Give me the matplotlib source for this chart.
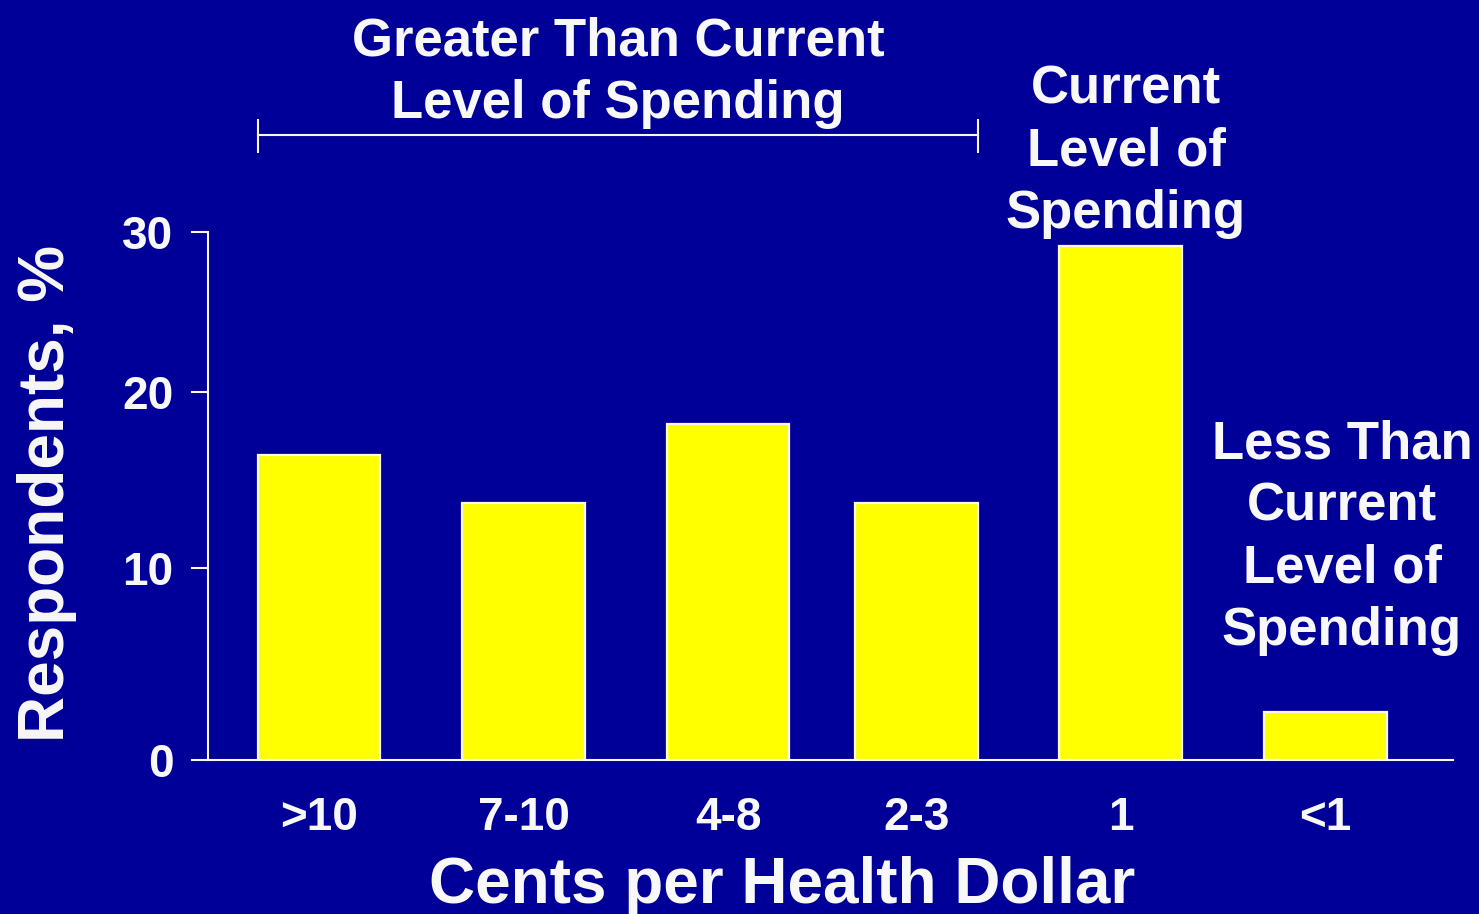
import numpy as np
import matplotlib
matplotlib.use("Agg")
import matplotlib.pyplot as plt
import matplotlib.transforms as mtransforms

# spending categories (cents per health dollar) and share of respondents
categories = [">10", "7-10", "4-8", "2-3", "1", "<1"]
respondents = [16.4, 13.7, 18.2, 13.7, 29.1, 2.5]
y_ticks = [0, 10, 20, 30]

# layout
bar_pos = [0, 1, 2, 2.92, 3.92, 4.92]
bar_width = 0.6
W, H = 1479, 914

BG = "#000099"
FG = "#F8F8F8"
BAR = "#FFFF00"

plt.rcParams["font.family"] = ["Liberation Sans", "DejaVu Sans"]
plt.rcParams["font.weight"] = "bold"

# the value axis of this slide is not evenly spaced, so use a piecewise scale
tick_px = [0, 192, 368, 528]


def fwd(v):
    return np.interp(v, y_ticks, tick_px)


def inv(u):
    return np.interp(u, tick_px, y_ticks)


fig = plt.figure(figsize=(W / 100, H / 100), dpi=100, facecolor=BG)
ax = fig.add_axes([208 / W, 1 - 760 / H, (1453 - 208) / W, (760 - 232) / H])
ax.set_facecolor(BG)

ax.bar(bar_pos, respondents, width=bar_width, color=BAR, edgecolor=FG, linewidth=1.6, zorder=3)

ax.set_yscale("function", functions=(fwd, inv))
ax.set_ylim(0, 30)
ax.set_yticks(y_ticks)
ax.set_yticklabels([str(t) for t in y_ticks])
ax.set_xlim(-0.543, 5.545)
ax.set_xticks(bar_pos)
ax.set_xticklabels(categories)
ax.minorticks_off()

for side in ["top", "right"]:
    ax.spines[side].set_visible(False)
for side in ["left", "bottom"]:
    ax.spines[side].set_color(FG)
    ax.spines[side].set_linewidth(1.5)

ax.tick_params(axis="y", colors=FG, length=12, width=1.5, pad=13, labelsize=33)
ax.tick_params(axis="x", colors=FG, length=0, pad=26, labelsize=33)
for lab in ax.get_xticklabels() + ax.get_yticklabels():
    lab.set_fontweight("bold")


def px(x, y):
    return x / W, 1 - y / H


# axis titles
fig.text(*px(782, 903), "Cents per Health Dollar", color=FG, fontsize=46,
         fontweight="bold", ha="center", va="baseline")
fig.text(*px(47, 494), "Respondents, %", color=FG, fontsize=46,
         fontweight="bold", ha="center", va="center", rotation=90)

# group annotations (y is the baseline of the last line)
note_kw = dict(color=FG, fontsize=38, fontweight="bold", ha="center",
               va="baseline", multialignment="center", linespacing=1.31)
fig.text(*px(618, 118), "Greater Than Current\nLevel of Spending", **note_kw)
fig.text(*px(1126, 228), "Current\nLevel of\nSpending", **note_kw)
fig.text(*px(1342, 645), "Less Than\nCurrent\nLevel of\nSpending", **note_kw)

# bracket spanning the "greater than" bars
trans = mtransforms.blended_transform_factory(ax.transData, fig.transFigure)
x0 = bar_pos[0] - bar_width / 2
x1 = bar_pos[3] + bar_width / 2
yb = 1 - 135 / H
ya, yc = 1 - 120 / H, 1 - 152 / H
ax.plot([x0, x1], [yb, yb], color=FG, lw=1.5, transform=trans, clip_on=False)
ax.plot([x0, x0], [ya, yc], color=FG, lw=1.5, transform=trans, clip_on=False)
ax.plot([x1, x1], [ya, yc], color=FG, lw=1.5, transform=trans, clip_on=False)

fig.savefig("out.png", dpi=100, facecolor=BG)
